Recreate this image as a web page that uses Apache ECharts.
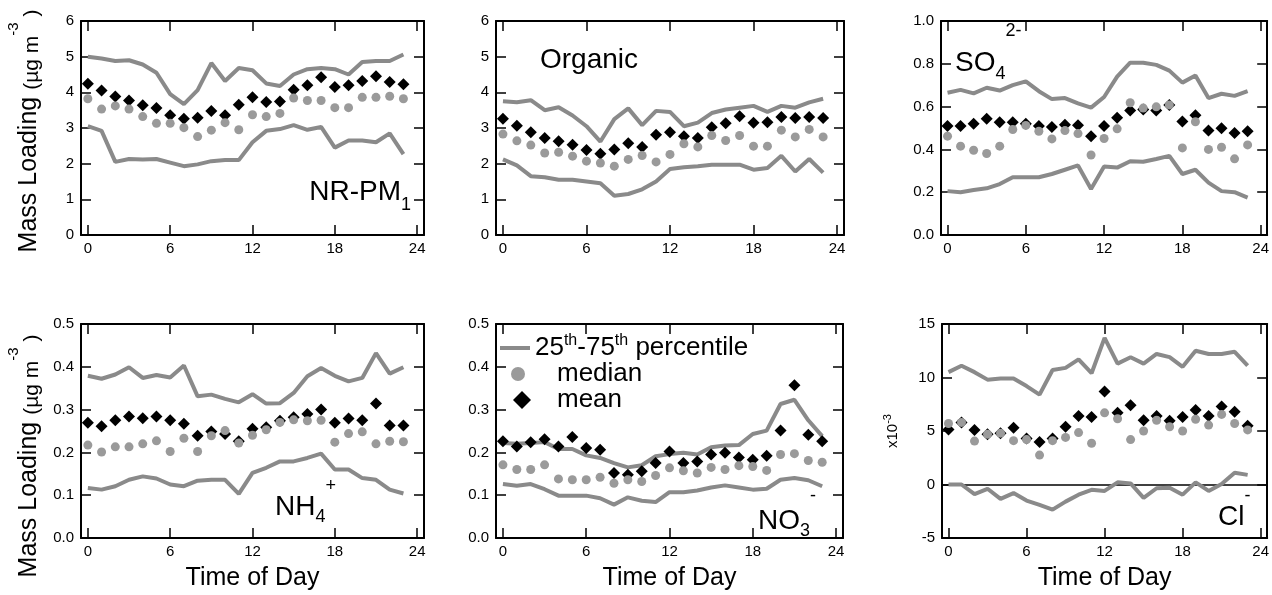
<!DOCTYPE html>
<html>
<head>
<meta charset="utf-8">
<script src="https://cdn.jsdelivr.net/npm/echarts@6/dist/echarts.min.js"></script>
<style>html,body{margin:0;padding:0;background:#fff}#c{width:1272px;height:595px}</style>
</head>
<body>
<div id="c"></div>
<script>
// ---------- DATA ----------
const hours = [0,1,2,3,4,5,6,7,8,9,10,11,12,13,14,15,16,17,18,19,20,21,22,23];
const xTicks = [0,6,12,18,24];

// NR-PM1 (µg m-3)
const pm_p75 = [5.0,4.95,4.88,4.9,4.78,4.55,3.95,3.67,4.06,4.82,4.32,4.68,4.62,4.25,4.18,4.5,4.65,4.68,4.65,4.5,4.85,4.88,4.88,5.06];
const pm_p25 = [3.05,2.92,2.05,2.13,2.12,2.13,2.03,1.93,1.98,2.07,2.1,2.1,2.6,2.92,2.97,3.08,2.95,3.03,2.45,2.65,2.65,2.6,2.85,2.27];
const pm_mean = [4.24,4.05,3.88,3.77,3.64,3.56,3.36,3.26,3.29,3.48,3.36,3.65,3.86,3.73,3.74,4.07,4.2,4.42,4.15,4.2,4.32,4.45,4.29,4.23];
const pm_median = [3.82,3.53,3.62,3.53,3.32,3.13,3.13,3.01,2.76,2.94,3.15,2.95,3.37,3.32,3.41,3.84,3.77,3.77,3.57,3.57,3.86,3.86,3.89,3.82];

// Organic
const org_p75 = [3.75,3.72,3.78,3.5,3.58,3.35,3.05,2.62,3.25,3.55,3.08,3.48,3.45,3.05,3.15,3.42,3.52,3.57,3.62,3.45,3.62,3.57,3.72,3.82];
const org_p25 = [2.12,1.95,1.65,1.62,1.55,1.55,1.5,1.45,1.1,1.15,1.28,1.5,1.85,1.9,1.93,1.97,1.97,1.97,1.83,1.88,2.22,1.78,2.13,1.75];
const org_mean = [3.26,3.06,2.88,2.72,2.63,2.53,2.38,2.28,2.4,2.57,2.47,2.81,2.88,2.77,2.72,3.02,3.13,3.33,3.15,3.16,3.31,3.28,3.31,3.28];
const org_median = [2.83,2.64,2.52,2.3,2.32,2.21,2.07,2.02,1.93,2.12,2.23,2.05,2.26,2.56,2.47,2.79,2.65,2.79,2.49,2.49,2.94,2.75,2.96,2.75];

// SO4 2-
const so4_p75 = [0.665,0.678,0.662,0.688,0.675,0.7,0.718,0.672,0.635,0.64,0.615,0.595,0.645,0.74,0.805,0.805,0.795,0.768,0.712,0.745,0.64,0.66,0.65,0.672];
const so4_p25 = [0.205,0.2,0.21,0.218,0.238,0.27,0.27,0.27,0.285,0.305,0.325,0.215,0.32,0.315,0.345,0.342,0.355,0.37,0.285,0.305,0.245,0.205,0.2,0.175];
const so4_mean = [0.509,0.509,0.52,0.543,0.527,0.527,0.52,0.509,0.505,0.515,0.513,0.462,0.509,0.548,0.582,0.587,0.582,0.607,0.53,0.559,0.488,0.499,0.477,0.485];
const so4_median = [0.462,0.415,0.396,0.381,0.415,0.493,0.512,0.485,0.449,0.488,0.474,0.374,0.451,0.496,0.618,0.593,0.599,0.608,0.407,0.529,0.4,0.41,0.356,0.421];

// NH4 +
const nh4_p75 = [0.379,0.372,0.382,0.399,0.374,0.381,0.375,0.403,0.331,0.335,0.325,0.317,0.336,0.314,0.315,0.339,0.378,0.397,0.379,0.366,0.374,0.432,0.384,0.399];
const nh4_p25 = [0.117,0.113,0.121,0.136,0.144,0.139,0.125,0.121,0.134,0.136,0.136,0.103,0.152,0.164,0.179,0.179,0.187,0.197,0.16,0.16,0.14,0.136,0.113,0.104];
const nh4_mean = [0.269,0.261,0.275,0.284,0.28,0.284,0.275,0.267,0.239,0.249,0.243,0.226,0.255,0.259,0.274,0.282,0.29,0.3,0.269,0.279,0.275,0.314,0.263,0.263];
const nh4_median = [0.217,0.201,0.213,0.213,0.22,0.227,0.202,0.233,0.202,0.239,0.251,0.222,0.24,0.253,0.27,0.276,0.274,0.275,0.224,0.244,0.248,0.22,0.226,0.225];

// NO3 -
const no3_p75 = [0.222,0.22,0.222,0.224,0.208,0.208,0.193,0.187,0.175,0.165,0.17,0.191,0.196,0.199,0.195,0.212,0.216,0.217,0.243,0.251,0.313,0.323,0.275,0.238];
const no3_p25 = [0.126,0.122,0.126,0.114,0.099,0.099,0.099,0.093,0.078,0.095,0.087,0.084,0.107,0.107,0.111,0.118,0.123,0.118,0.113,0.115,0.136,0.14,0.135,0.121];
const no3_mean = [0.226,0.214,0.224,0.231,0.214,0.236,0.21,0.206,0.152,0.148,0.156,0.175,0.202,0.175,0.179,0.195,0.199,0.188,0.183,0.192,0.251,0.357,0.241,0.226];
const no3_median = [0.171,0.16,0.16,0.171,0.138,0.136,0.136,0.142,0.128,0.136,0.132,0.146,0.164,0.157,0.152,0.165,0.16,0.169,0.167,0.158,0.195,0.197,0.181,0.177];

// Cl - (x10^-3)
const cl_p75 = [10.5,11.1,10.5,9.8,9.9,9.9,9.2,8.4,10.7,10.9,11.7,10.4,13.7,11.3,11.9,11.3,12.2,11.9,11.0,12.5,12.2,12.2,12.4,11.1];
const cl_p25 = [0,0,-0.9,-0.4,-1.35,-0.8,-1.5,-1.9,-2.35,-1.6,-0.95,-0.5,-0.6,0.2,0.1,-1.25,-0.35,-0.3,-0.95,0.2,-0.6,0.05,1.1,0.9];
const cl_mean = [5.15,5.8,5.1,4.7,4.8,5.3,4.3,3.97,4.3,5.4,6.4,6.3,8.7,6.7,7.4,6.0,6.4,5.95,6.3,6.97,6.4,7.3,6.8,5.5];
const cl_median = [5.7,5.8,4.06,4.7,4.8,4.1,4.2,2.75,4.1,4.4,4.85,3.85,6.7,6.15,4.2,5.0,6.0,5.4,5.0,6.1,5.55,6.55,5.7,5.1];

// axis ranges / tick steps per panel
const yMin  = [0, 0, 0, 0, 0, -5];
const yMax  = [6, 6, 1.0, 0.5, 0.5, 15];
const yStep = [1, 1, 0.2, 0.1, 0.1, 5];
const yDec  = [0, 0, 1, 1, 1, 0];

// ---------- LAYOUT / STYLE ----------
const FONT = '"Liberation Sans", Arial, Helvetica, sans-serif';
const LINE_GRAY = '#8a8a8a';
const DOT_GRAY = '#9a9a9a';
const grids = [
  {left: 81,  top: 21,  width: 343, height: 214},
  {left: 496, top: 21,  width: 348, height: 214},
  {left: 941, top: 21,  width: 328, height: 214},
  {left: 81,  top: 324, width: 343, height: 214},
  {left: 496, top: 324, width: 347, height: 214},
  {left: 942, top: 324, width: 327, height: 214}
];
const panels = [
  [pm_p75, pm_p25, pm_mean, pm_median],
  [org_p75, org_p25, org_mean, org_median],
  [so4_p75, so4_p25, so4_mean, so4_median],
  [nh4_p75, nh4_p25, nh4_mean, nh4_median],
  [no3_p75, no3_p25, no3_mean, no3_median],
  [cl_p75, cl_p25, cl_mean, cl_median]
];
const pairs = arr => arr.map((v, i) => [hours[i], v]);

const axisLine = {show: true, onZero: false, lineStyle: {color: '#000', width: 2}};
const tickStyle = {color: '#000', width: 1.5};

const xAxis = [], yAxis = [], series = [];
grids.forEach((g, i) => {
  const bottomRow = i >= 3;
  xAxis.push({
    type: 'value', gridIndex: i, position: 'bottom', min: -0.5, max: 24.5,
    axisLine: axisLine,
    axisTick: {show: true, inside: true, length: 10, customValues: xTicks, lineStyle: tickStyle},
    axisLabel: {show: true, customValues: xTicks, color: '#000', fontSize: 15, fontFamily: FONT, margin: 6},
    splitLine: {show: false},
    name: bottomRow ? 'Time of Day' : '',
    nameLocation: 'middle', nameGap: 28,
    nameTextStyle: {color: '#000', fontSize: 25, fontFamily: FONT}
  });
  xAxis.push({
    type: 'value', gridIndex: i, position: 'top', min: -0.5, max: 24.5,
    axisLine: axisLine,
    axisTick: {show: true, inside: true, length: 10, customValues: xTicks, lineStyle: tickStyle},
    axisLabel: {show: false}, splitLine: {show: false}
  });
  const dec = yDec[i];
  yAxis.push({
    type: 'value', gridIndex: i, position: 'left', min: yMin[i], max: yMax[i], interval: yStep[i],
    axisLine: axisLine,
    axisTick: {show: true, inside: true, length: 10, lineStyle: tickStyle},
    axisLabel: {show: true, color: '#000', fontSize: 15, fontFamily: FONT, margin: 7,
                formatter: v => v.toFixed(dec)},
    splitLine: {show: false},
    name: i === 5 ? '{m|x10}{t|-3}' : '',
    nameLocation: 'middle', nameRotate: 90, nameGap: 38,
    nameTextStyle: {color: '#000', fontFamily: FONT, rich: {
      m: {fontSize: 15, lineHeight: 22, verticalAlign: 'middle', fontFamily: FONT, color: '#000'},
      t: {fontSize: 11, verticalAlign: 'top', fontFamily: FONT, color: '#000'}
    }}
  });
  yAxis.push({
    type: 'value', gridIndex: i, position: 'right', min: yMin[i], max: yMax[i], interval: yStep[i],
    axisLine: axisLine,
    axisTick: {show: true, inside: true, length: 10, lineStyle: tickStyle},
    axisLabel: {show: false}, splitLine: {show: false}
  });

  const [p75, p25, mean, median] = panels[i];
  const xi = 2 * i, yi = 2 * i;
  const lineBase = {
    type: 'line', xAxisIndex: xi, yAxisIndex: yi, name: 'pct', symbol: 'none',
    lineStyle: {color: LINE_GRAY, width: 4}, itemStyle: {color: LINE_GRAY},
    z: 2, silent: true, animation: false
  };
  const lower = Object.assign({}, lineBase, {data: pairs(p25)});
  if (i === 5) {
    lower.markLine = {
      silent: true, symbol: ['none', 'none'], label: {show: false},
      lineStyle: {color: '#000', width: 1.5, type: 'solid'},
      data: [{yAxis: 0}], animation: false, z: 1
    };
  }
  series.push(Object.assign({}, lineBase, {data: pairs(p75)}));
  series.push(lower);
  series.push({
    type: 'scatter', xAxisIndex: xi, yAxisIndex: yi, name: 'mean', symbol: 'diamond', symbolSize: 12,
    itemStyle: {color: '#000', opacity: 1}, data: pairs(mean), z: 3, silent: true, animation: false
  });
  series.push({
    type: 'scatter', xAxisIndex: xi, yAxisIndex: yi, name: 'median', symbol: 'circle', symbolSize: 9,
    itemStyle: {color: DOT_GRAY, opacity: 1}, data: pairs(median), z: 4, silent: true, animation: false
  });
});

// ---------- TEXT (titles and panel labels) ----------
function labelRich(LH, P, Q) {
  return {
    m: {fontSize: 28, lineHeight: LH, verticalAlign: 'middle', fontFamily: FONT, fill: '#000'},
    b: {fontSize: 18, verticalAlign: 'bottom', padding: [0, 0, Q, 0], fontFamily: FONT, fill: '#000'},
    t: {fontSize: 18, verticalAlign: 'top', padding: [P, 0, 0, 0], fontFamily: FONT, fill: '#000'}
  };
}
function panelLabel(x, y, text, align, LH, P, Q) {
  return {type: 'text', x: x, y: y, silent: true, style: {
    text: text, align: align, verticalAlign: 'middle', fill: '#000',
    rich: labelRich(LH, P, Q)
  }};
}
const massRich = {
  m: {fontSize: 25, lineHeight: 46, verticalAlign: 'middle', fontFamily: FONT, fill: '#000'},
  u: {fontSize: 21, verticalAlign: 'bottom', padding: [0, 0, 9, 0], fontFamily: FONT, fill: '#000'},
  p: {fontSize: 15, verticalAlign: 'top', padding: [0, 0, 0, 0], fontFamily: FONT, fill: '#000'}
};
function massTitle(x, y) {
  return {type: 'text', x: x, y: y, rotation: Math.PI / 2, silent: true, style: {
    text: '{m|Mass Loading }{u|(µg m}{p|-3}{u| )}', align: 'center', verticalAlign: 'middle',
    fill: '#000', rich: massRich
  }};
}
const graphic = [
  massTitle(29, 131),
  massTitle(29, 456),
  panelLabel(411, 192, '{m|NR-PM}{b|1}', 'right', 70, 0, 13),
  panelLabel(540, 60, '{m|Organic}', 'left', 70, 0, 0),
  panelLabel(955, 63, '{m|SO}{b|4}{t|2-}', 'left', 82, 0, 21),
  panelLabel(275, 507, '{m|NH}{b|4}{t|+}', 'left', 70, 5, 16),
  panelLabel(758, 521, '{m|NO}{b|3}{t|-}', 'left', 70, 1, 16),
  panelLabel(1218, 517, '{m|Cl}{t|-}', 'left', 70, 5, 0)
];

// ---------- LEGEND ----------
const legTxt = {
  m: {fontSize: 26, lineHeight: 30, verticalAlign: 'middle', fontFamily: FONT, color: '#000'},
  t: {fontSize: 16, lineHeight: 16, verticalAlign: 'top', fontFamily: FONT, color: '#000'},
  p: {width: 27, fontSize: 10, lineHeight: 30},
  q: {width: 21, fontSize: 10, lineHeight: 30}
};
const legend = [
  {data: [{name: 'pct', icon: 'rect'}], left: 500, top: 333, padding: 0, itemWidth: 30, itemHeight: 4,
   selectedMode: false, formatter: () => '{m|25}{t|th}{m|-75}{t|th}{m| percentile}', textStyle: {rich: legTxt}},
  {data: ['median'], left: 511, top: 361, padding: 0, itemWidth: 14, itemHeight: 14, selectedMode: false,
   formatter: () => '{p|\u00a0}{m|median}', textStyle: {rich: legTxt}},
  {data: ['mean'], left: 513, top: 387, padding: 0, itemWidth: 18, itemHeight: 18, selectedMode: false,
   formatter: () => '{q|\u00a0}{m|mean}', textStyle: {rich: legTxt}}
];

const chart = echarts.init(document.getElementById('c'), null, {renderer: 'canvas'});
chart.setOption({
  backgroundColor: '#fff',
  animation: false,
  grid: grids.map(g => Object.assign({containLabel: false, show: false}, g)),
  xAxis: xAxis,
  yAxis: yAxis,
  legend: legend,
  series: series,
  graphic: graphic
});
</script>
</body>
</html>
